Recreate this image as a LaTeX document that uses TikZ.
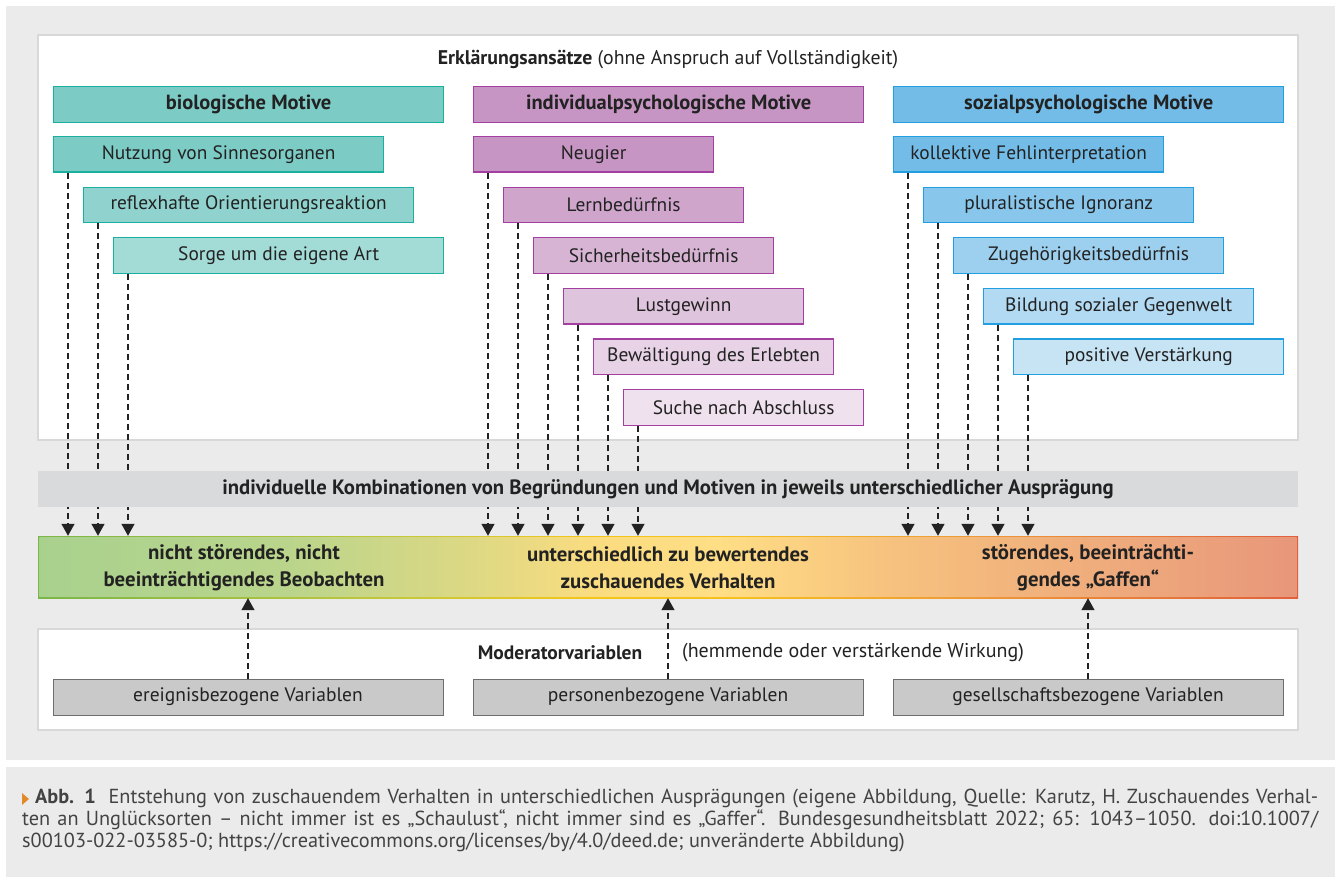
\documentclass[tikz,border=0pt]{standalone}
\usepackage{fontspec}
\setmainfont{PT Sans}
\usetikzlibrary{arrows.meta, positioning, calc}
\definecolor{hintergrund}{HTML}{EBEBEC}
\definecolor{rahmen}{HTML}{D8D8D8}
\definecolor{bandgrau}{HTML}{D9DADB}
\definecolor{schrift}{HTML}{222222}
\definecolor{bio}{HTML}{7CCBC5}
\definecolor{biorand}{HTML}{1BAFA0}
\definecolor{indiv}{HTML}{C695C3}
\definecolor{indivrand}{HTML}{A43FA2}
\definecolor{sozial}{HTML}{73BCE7}
\definecolor{sozialrand}{HTML}{229FE0}
\definecolor{modgrau}{HTML}{C9C9C9}
\definecolor{modrand}{HTML}{6E6E6E}
\definecolor{marker}{HTML}{E08A2A}
\pgfdeclarehorizontalshading{verlaufhell}{100bp}{color(0bp)=(rgb,255:red,169;green,209;blue,142);
  color(25bp)=(rgb,255:red,169;green,209;blue,142); color(35bp)=(rgb,255:red,186;green,213;blue,139);
  color(42bp)=(rgb,255:red,220;green,216;blue,132); color(47bp)=(rgb,255:red,250;green,220;blue,128);
  color(52bp)=(rgb,255:red,255;green,222;blue,133); color(59bp)=(rgb,255:red,246;green,193;blue,126);
  color(75bp)=(rgb,255:red,232;green,151;blue,122); color(100bp)=(rgb,255:red,232;green,151;blue,122)}
\pgfdeclarehorizontalshading{verlaufrand}{100bp}{color(0bp)=(rgb,255:red,122;green,182;blue,72);
  color(25bp)=(rgb,255:red,122;green,182;blue,72); color(40bp)=(rgb,255:red,200;green,200;blue,58);
  color(47bp)=(rgb,255:red,245;green,197;blue,24); color(53bp)=(rgb,255:red,246;green,190;blue,31);
  color(62bp)=(rgb,255:red,238;green,154;blue,56); color(75bp)=(rgb,255:red,225;green,96;blue,60);
  color(100bp)=(rgb,255:red,225;green,96;blue,60)}
\tikzset{
  panel/.style={draw=rahmen, line width=1.2pt, fill=white},
  kopf/.style={rectangle, draw=#1rand, fill=#1, line width=1.3pt, text=schrift,
    font=\fontsize{20.5}{23}\selectfont\bfseries, minimum width=390pt,
    minimum height=36pt, inner sep=0pt, anchor=north west},
  motiv/.style n args={3}{rectangle, draw=#1rand, fill=#1!#2!white, line width=1.3pt,
    text=schrift, font=\fontsize{19.4}{22}\selectfont, minimum width=#3,
    minimum height=35.5pt, inner sep=0pt, anchor=north west},
  pfeil/.style={-{Triangle[width=13pt, length=12pt]}, line width=1.3pt,
    dash pattern=on 6pt off 4pt, color=schrift},
  band/.style={rectangle, fill=bandgrau, minimum width=1260pt, minimum height=36pt,
    inner sep=0pt, text=schrift, font=\fontsize{20.7}{23}\selectfont\bfseries},
  wert/.style={align=center, text=schrift, font=\fontsize{20.8}{27}\selectfont\bfseries},
  modbox/.style={rectangle, draw=modrand, fill=modgrau, line width=1pt, text=schrift,
    font=\fontsize{19.5}{22}\selectfont, minimum width=390pt, minimum height=36pt,
    inner sep=0pt},
  etikett/.style={text=schrift, font=\fontsize{19.8}{22}\selectfont, inner sep=0pt}
}

\begin{document}
\begin{tikzpicture}[x=1pt, y=-1pt]
    \useasboundingbox (0,0) rectangle (1335,877);
    \fill[hintergrund] (6,6) rectangle (1335,760);
    \fill[hintergrund] (6,767) rectangle (1335,877);

    % Erklaerungsansaetze
    \draw[panel] (38,35) rectangle (1298,440);
    \node[etikett] (titel) at (668,60) {\textbf{Erklärungsansätze} (ohne Anspruch auf Vollständigkeit)};

    \node[kopf=bio] (biokopf) at (53,86) {biologische Motive};
    \node[kopf=indiv] (indivkopf) at (473,86) {individualpsychologische Motive};
    \node[kopf=sozial] (sozialkopf) at (893,86) {sozialpsychologische Motive};

    \foreach \eintrag [count=\i from 0] in {Nutzung von Sinnesorganen,
        reflexhafte Orientierungsreaktion, Sorge um die eigene Art} {
      \pgfmathtruncatemacro\anteil{100-15*\i}
      \node[motiv={bio}{\anteil}{330pt}] (bio-\i) at (53+30*\i,136+50.6*\i) {\eintrag};
    }
    \foreach \eintrag [count=\i from 0] in {Neugier, Lernbedürfnis, Sicherheitsbedürfnis,
        Lustgewinn, Bewältigung des Erlebten, Suche nach Abschluss} {
      \pgfmathtruncatemacro\anteil{100-14.4*\i}
      \node[motiv={indiv}{\anteil}{240pt}] (indiv-\i) at (473+30*\i,136+50.6*\i) {\eintrag};
    }
    \foreach \eintrag [count=\i from 0] in {kollektive Fehlinterpretation,
        pluralistische Ignoranz, Zugehörigkeitsbedürfnis, Bildung sozialer Gegenwelt,
        positive Verstärkung} {
      \pgfmathtruncatemacro\anteil{100-15*\i}
      \node[motiv={sozial}{\anteil}{270pt}] (sozial-\i) at (893+30*\i,136+50.6*\i) {\eintrag};
    }

    % Verhalten
    \node[minimum width=1260pt, minimum height=62pt, inner sep=0pt, shading=verlaufrand] (balken) at (668,567) {};
    \shade[shading=verlaufhell]
      ([shift={(1.5,1.5)}]balken.north west) rectangle ([shift={(-1.5,-1.5)}]balken.south east);
    \node[wert] (beobachten) at (244,568) {nicht störendes, nicht\\ beeinträchtigendes Beobachten};
    \node[wert] (zuschauen) at (668,568) {unterschiedlich zu bewertendes\\ zuschauendes Verhalten};
    \node[wert] (gaffen) at (1088,568) {störendes, beeinträchti-\\ gendes „Gaffen“};

    \foreach \gruppe/\n in {bio/2, indiv/5, sozial/4}
      \foreach \i in {0,...,\n} {
        \coordinate (start) at ($(\gruppe-\i.south west)+(15,0)$);
        \draw[pfeil] (start) -- (start |- balken.north);
      }
    \node[band] (kombination) at (668,489) {individuelle Kombinationen von Begründungen und Motiven in jeweils unterschiedlicher Ausprägung};

    % Moderatorvariablen
    \draw[panel] (38,629) rectangle (1298,730);
    \node[etikett, font=\fontsize{19.5}{22}\selectfont\bfseries] (modtitel) at (560,653) {Moderatorvariablen};
    \node[etikett, font=\fontsize{20}{22}\selectfont] (modwirkung) at (853,653) {(hemmende oder verstärkende Wirkung)};
    \node[modbox] (ereignis) at (248,697) {ereignisbezogene Variablen};
    \node[modbox] (person) at (668,697) {personenbezogene Variablen};
    \node[modbox] (gesellschaft) at (1088,697) {gesellschaftsbezogene Variablen};
    \draw[pfeil] (ereignis.north) -- (ereignis.north |- balken.south);
    \draw[pfeil] (person.north) -- (person.north |- balken.south);
    \draw[pfeil] (gesellschaft.north) -- (gesellschaft.north |- balken.south);

    % Bildunterschrift
    \fill[marker] (22,793) -- (29,799) -- (22,805) -- cycle;
    \node[anchor=north west, align=justify, text width=1296pt, inner sep=0pt, text=schrift!85!white,
          font=\fontsize{20.3}{22}\selectfont] (unterschrift) at (22,789)
      {\hspace*{13pt}\textbf{Abb. 1}\hspace{6pt} Entstehung von zuschauendem Verhalten in unterschiedlichen Ausprägungen (eigene Abbildung, Quelle: Karutz, H. Zuschauendes Verhal-\linebreak
       ten an Unglücksorten – nicht immer ist es „Schaulust“, nicht immer sind es „Gaffer“. Bundesgesundheitsblatt 2022; 65: 1043–1050. doi:10.1007/\linebreak
       s00103-022-03585-0; https://creativecommons.org/licenses/by/4.0/deed.de; unveränderte Abbildung)};
\end{tikzpicture}
\end{document}
